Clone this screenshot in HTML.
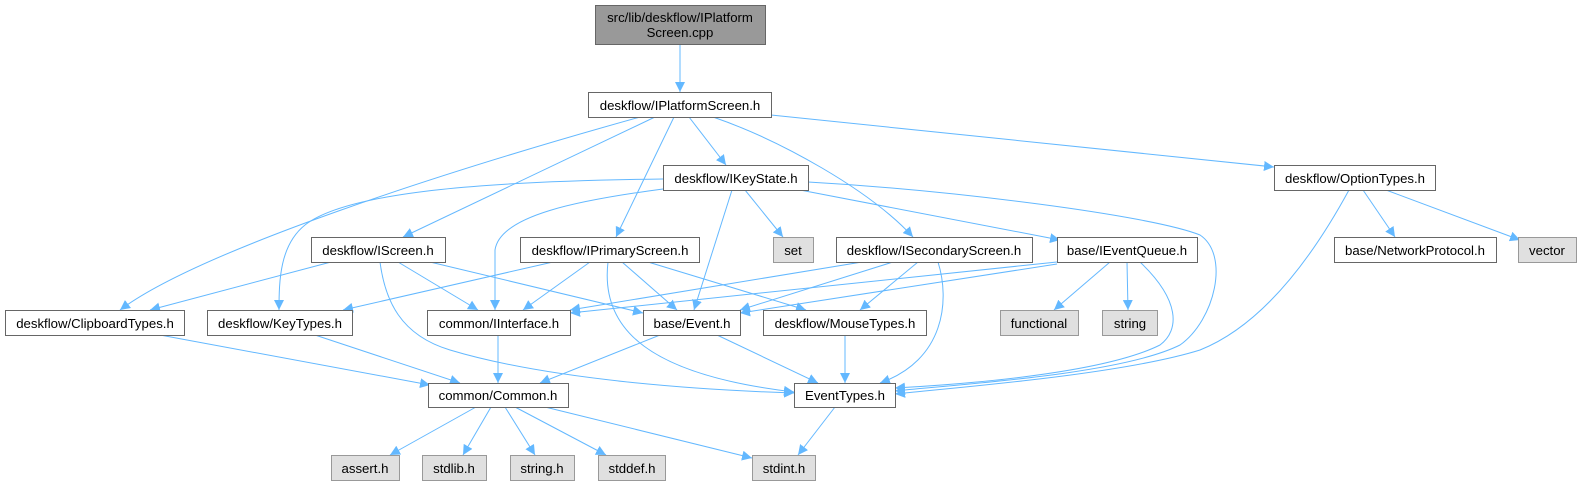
<!DOCTYPE html>
<html><head><meta charset="utf-8"><style>
html,body{margin:0;padding:0;background:#fff;}
svg{display:block;font-family:"Liberation Sans",Arial,sans-serif;font-size:13.2px;}
</style></head><body>
<svg width="1580" height="485" viewBox="0 0 1580 485" xmlns="http://www.w3.org/2000/svg">
<defs>
<marker id="a" viewBox="0 0 10 10" refX="10" refY="5" markerWidth="10" markerHeight="10" markerUnits="userSpaceOnUse" orient="auto">
<path d="M0,0 L10,5 L0,10 z" fill="#63b8ff"/>
</marker>
</defs>
<g fill="none" stroke="#63b8ff" stroke-width="1" marker-end="url(#a)">
<path d="M680,44 L680,92"/>
<path d="M689,117 L726,165"/>
<path d="M771,115 L1274,167"/>
<path d="M713,117 C780,140 870,190 913,237"/>
<path d="M674,117 L616,237"/>
<path d="M655,117 L403,237"/>
<path d="M640,117 C450,170 200,250 120,310"/>
<path d="M663,179 C500,181 350,190 305,225 C280,245 279,280 279,310"/>
<path d="M663,189 C580,200 500,215 495,250 L495,310"/>
<path d="M732,190 L694,310"/>
<path d="M745,190 L783,237"/>
<path d="M808,182 C950,190 1150,215 1200,235 C1230,255 1215,320 1180,345 C1120,375 950,385 895,391"/>
<path d="M800,190 L1060,240"/>
<path d="M862,262 L570,310"/>
<path d="M893,262 L740,310"/>
<path d="M918,262 L860,310"/>
<path d="M938,262 C950,300 945,360 880,383"/>
<path d="M1057,262 L570,313"/>
<path d="M1057,264 L740,313"/>
<path d="M1110,262 L1054,310"/>
<path d="M1127,262 L1128,310"/>
<path d="M1140,262 C1180,300 1180,330 1160,345 C1100,375 950,385 895,388"/>
<path d="M1349,190 C1300,280 1250,330 1200,350 C1120,375 950,388 895,394"/>
<path d="M1363,190 L1395,237"/>
<path d="M1386,190 L1520,240"/>
<path d="M331,262 L150,310"/>
<path d="M398,262 L478,310"/>
<path d="M430,262 L643,313"/>
<path d="M380,262 C385,300 400,335 450,350 C550,380 700,390 794,393"/>
<path d="M553,262 L343,310"/>
<path d="M590,262 L523,310"/>
<path d="M608,262 C600,330 650,375 794,392"/>
<path d="M622,262 L677,310"/>
<path d="M648,262 L806,310"/>
<path d="M498,335 L498,383"/>
<path d="M660,335 L540,383"/>
<path d="M717,335 L818,383"/>
<path d="M845,335 L845,383"/>
<path d="M160,335 L430,385"/>
<path d="M315,335 L460,383"/>
<path d="M476,407 L390,455"/>
<path d="M491,407 L463,455"/>
<path d="M505,407 L535,455"/>
<path d="M515,407 L606,455"/>
<path d="M545,407 L752,458"/>
<path d="M835,407 L798,455"/>
</g>
<g stroke-width="1">
<rect x="595.5" y="5.5" width="170" height="39" fill="#999" stroke="#666"/>
<g fill="#fff" stroke="#666">
<rect x="588.5" y="92.5" width="183" height="25"/>
<rect x="663.5" y="165.5" width="145" height="25"/>
<rect x="1274.5" y="165.5" width="161" height="25"/>
<rect x="311.5" y="237.5" width="134" height="25"/>
<rect x="520.5" y="237.5" width="179" height="25"/>
<rect x="836.5" y="237.5" width="196" height="25"/>
<rect x="1057.5" y="237.5" width="140" height="25"/>
<rect x="1334.5" y="237.5" width="162" height="25"/>
<rect x="5.5" y="310.5" width="179" height="25"/>
<rect x="207.5" y="310.5" width="145" height="25"/>
<rect x="427.5" y="310.5" width="143" height="25"/>
<rect x="643.5" y="310.5" width="97" height="25"/>
<rect x="763.5" y="310.5" width="163" height="25"/>
<rect x="428.5" y="383.5" width="140" height="24"/>
<rect x="794.5" y="383.5" width="101" height="24"/>
</g>
<g fill="#e0e0e0" stroke="#999">
<rect x="773.5" y="237.5" width="40" height="25"/>
<rect x="1518.5" y="237.5" width="58" height="25"/>
<rect x="1000.5" y="310.5" width="78" height="25"/>
<rect x="1102.5" y="310.5" width="55" height="25"/>
<rect x="331.5" y="455.5" width="68" height="25"/>
<rect x="422.5" y="455.5" width="64" height="25"/>
<rect x="510.5" y="455.5" width="64" height="25"/>
<rect x="598.5" y="455.5" width="67" height="25"/>
<rect x="752.5" y="455.5" width="63" height="25"/>
</g>
</g>
<g fill="#000" text-anchor="middle">
<text x="680" y="22">src/lib/deskflow/IPlatform</text>
<text x="680" y="37">Screen.cpp</text>
<text x="680" y="110">deskflow/IPlatformScreen.h</text>
<text x="736" y="183">deskflow/IKeyState.h</text>
<text x="1355" y="183">deskflow/OptionTypes.h</text>
<text x="378" y="255">deskflow/IScreen.h</text>
<text x="610" y="255">deskflow/IPrimaryScreen.h</text>
<text x="793" y="255">set</text>
<text x="934" y="255">deskflow/ISecondaryScreen.h</text>
<text x="1127" y="255">base/IEventQueue.h</text>
<text x="1415" y="255">base/NetworkProtocol.h</text>
<text x="1547" y="255">vector</text>
<text x="95" y="328">deskflow/ClipboardTypes.h</text>
<text x="280" y="328">deskflow/KeyTypes.h</text>
<text x="499" y="328">common/IInterface.h</text>
<text x="692" y="328">base/Event.h</text>
<text x="845" y="328">deskflow/MouseTypes.h</text>
<text x="1039" y="328">functional</text>
<text x="1130" y="328">string</text>
<text x="498" y="400">common/Common.h</text>
<text x="845" y="400">EventTypes.h</text>
<text x="365" y="473">assert.h</text>
<text x="454" y="473">stdlib.h</text>
<text x="542" y="473">string.h</text>
<text x="632" y="473">stddef.h</text>
<text x="784" y="473">stdint.h</text>
</g>
</svg>
</body></html>
